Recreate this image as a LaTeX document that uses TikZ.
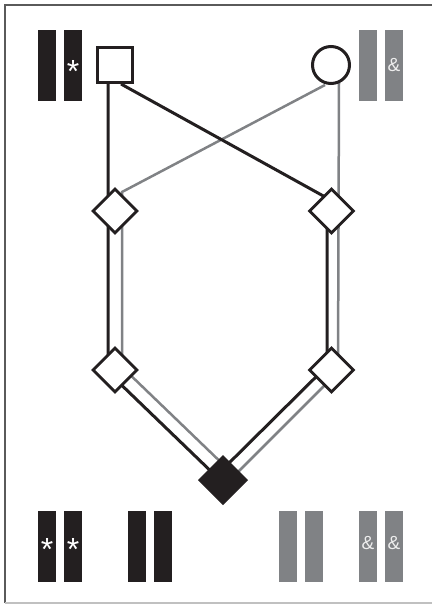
\documentclass[tikz,border=0pt]{standalone}
\usepackage{fontspec}
\newfontfamily\labfont{Liberation Sans}
\usetikzlibrary{shapes.geometric,calc}
\definecolor{blk}{HTML}{231F20}
\definecolor{gry}{HTML}{808285}
\definecolor{frm}{HTML}{5A5A5A}
\definecolor{frmlt}{HTML}{C0C0C0}
\definecolor{amptxt}{HTML}{EDEDED}
\tikzset{
  blkline/.style={line width=3pt, draw=blk},
  gryline/.style={line width=2.5pt, draw=gry},
  dia/.style={diamond, draw=blk, line width=2.8pt, fill=white, minimum size=45pt, inner sep=0pt},
  affdia/.style={diamond, draw=blk, line width=1pt, fill=blk, minimum size=49pt, inner sep=0pt},
  bar/.style={rectangle, minimum width=18pt, minimum height=71pt, inner sep=0pt, text=white},
  bbar/.style={bar, fill=blk},
  gbar/.style={bar, fill=gry},
  star/.style={font=\labfont\fontsize{32}{32}\selectfont, yshift=-6pt, text=white},
  amp/.style={font=\labfont\fontsize{19}{19}\selectfont, text=amptxt},
}
\begin{document}
\begin{tikzpicture}[x=1pt,y=-1pt]
\useasboundingbox (0,0) rectangle (431,605);
% frame
\draw[frm, line width=1.8pt] (5,603) -- (5,5) -- (432,5);
\draw[frmlt, line width=1.4pt] (5,603) -- (432,603);

% bend coordinates
\coordinate (sqb) at (108,84);
\coordinate (sqd) at (121,84);
\coordinate (cib) at (339,83);
\coordinate (cid) at (325,85);
\coordinate (lb1) at (108,372);
\coordinate (lg1) at (122,192);
\coordinate (lg2) at (122,367);
\coordinate (rb1) at (327,198);
\coordinate (rb2) at (327,366);
\coordinate (rg2) at (338,372);
\coordinate (ebl) at (220,480);
\coordinate (egl) at (230,471);
\coordinate (ebr) at (223,469);
\coordinate (egr) at (225,485);

% connectors
\draw[gryline] (cid) -- (lg1) -- (lg2) -- (egl);
\draw[gryline] (cib) -- (rg2) -- (egr);
\draw[blkline] (sqb) -- (lb1) -- (ebl);
\draw[blkline] (sqd) -- (rb1) -- (rb2) -- (ebr);

% people
\node[rectangle, draw=blk, line width=3pt, fill=white, minimum size=35pt, inner sep=0pt] (father) at (115,65) {};
\node[circle, draw=blk, line width=3pt, fill=white, minimum size=37pt, inner sep=0pt] (mother) at (331,65) {};
\node[dia] (l1) at (115,211) {};
\node[dia] (r1) at (331.5,211) {};
\node[dia] (l2) at (115,370) {};
\node[dia] (r2) at (331.5,370) {};
\node[affdia] (child) at (223,480) {};

% top bars
\node[bbar] (tb1) at (47,65.4) {};
\node[bbar] (tb2) at (73,65.4) {};
\node[star] (tb2t) at (73,65) {*};
\node[gbar] (tg1) at (368,65.4) {};
\node[gbar] (tg2) at (394,65.4) {};
\node[amp] (tg2t) at (394,65) {\&};

% bottom bars
\node[bbar] (bb1) at (47,546.5) {};
\node[bbar] (bb2) at (73,546.5) {};
\node[star] (bb1t) at (47,543) {*};
\node[star] (bb2t) at (73,543) {*};
\node[bbar] (bb3) at (137,546.5) {};
\node[bbar] (bb4) at (163,546.5) {};
\node[gbar] (bg1) at (288,546.5) {};
\node[gbar] (bg2) at (314,546.5) {};
\node[gbar] (bg3) at (368,546.5) {};
\node[gbar] (bg4) at (394,546.5) {};
\node[amp] (bg3t) at (368,543) {\&};
\node[amp] (bg4t) at (394,543) {\&};
\end{tikzpicture}
\end{document}
